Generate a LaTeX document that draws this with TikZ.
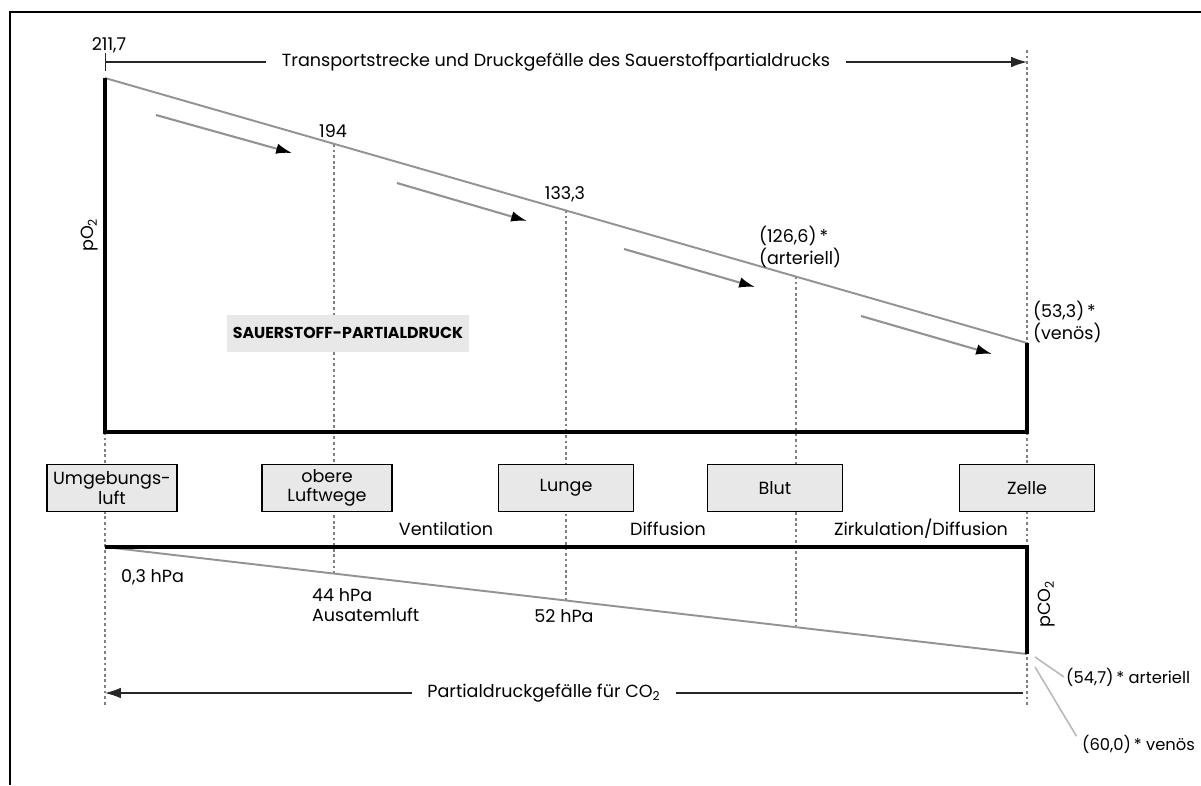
\documentclass[tikz,border=0pt]{standalone}
\usepackage{fontspec}
\setmainfont{Poppins}
\usetikzlibrary{arrows.meta}

\begin{document}
\begin{tikzpicture}[x=0.02cm,y=-0.02cm,font=\fontsize{10}{11}\selectfont,
                    level/.style={line width=2.2pt},
                    slope/.style={draw=gray!85,line width=1.1pt},
                    grid line/.style={draw=gray,line width=0.8pt,dash pattern=on 1.6pt off 1.6pt},
                    flow/.style={draw=gray!85,line width=1.2pt,-{Latex[black,length=9pt,width=6pt]}},
                    span/.style={draw=black!85,line width=0.7pt},
                    stage/.style={draw,fill=gray!18,line width=0.8pt,minimum width=2.6cm,
                                  minimum height=0.94cm,align=center,inner sep=1pt},
                    value/.style={inner sep=1pt,align=left},
                    leader/.style={draw=gray!55,line width=0.9pt}]
  \useasboundingbox (0,0) rectangle (1201,785);
  \draw[line width=1.7pt] (1201,12) -- (10,12) -- (10,785);

  % O2 and CO2 corners
  \coordinate (o2top) at (105,78);
  \coordinate (o2bl)  at (105,432);
  \coordinate (o2br)  at (1027,432);
  \coordinate (o2end) at (1027,343);
  \coordinate (co2l)  at (105,547);
  \coordinate (co2r)  at (1027,547);
  \coordinate (co2end) at (1027,654);

  % dotted stage lines
  \foreach \x/\ya/\yb in {105/432/705, 334/144/573, 566/210/600, 796/276/626, 1027/50/705}
    \draw[grid line] (\x,\ya) coordinate (g\x a) -- (\x,\yb) coordinate (g\x b);

  \draw[slope] (o2top) -- (o2end);
  \draw[slope] (co2l) -- (co2end);
  \draw[level] (o2top) -- (o2bl) -- (o2br) -- (o2end);
  \draw[level] (co2l) -- (co2r) -- (co2end);

  \foreach \n/\xa/\ya/\xb/\yb in {1/156/115/292/153, 2/397/183/527/221,
                                   3/624/249/755/287, 4/861/316/992/354} {
    \coordinate (f\n a) at (\xa,\ya);
    \coordinate (f\n b) at (\xb,\yb);
    \draw[flow] (f\n a) -- (f\n b);
  }

  \coordinate (tstart) at (105,62);
  \coordinate (tend) at (1027,62);
  \draw[span,{Bar[width=10pt]}-{Latex[length=9pt,width=6pt]}] (tstart) -- (tend);
  \node[fill=white,inner xsep=9pt] (transport) at (556,62)
    {Transportstrecke und Druckgefälle des Sauerstoffpartialdrucks};

  \coordinate (cstart) at (1023,693);
  \coordinate (cend) at (105,693);
  \draw[span,-{Latex[length=9pt,width=6pt]}] (cstart) -- (cend);
  \node[fill=white,inner xsep=9pt] (gradient) at (544,693) {Partialdruckgefälle für CO\textsubscript{2}};

  \node[value] (v211) at (109,45) {211,7};
  \node[value] (v194) at (333,131) {194};
  \node[value] (v133) at (565,194) {133,3};
  \node[value,anchor=west] (v126) at (757,247) {(126,6)\,*\\(arteriell)};
  \node[value,anchor=west] (v53) at (1031,322) {(53,3)\,*\\(venös)};
  \node[rotate=90] (po2) at (90,235) {pO\textsubscript{2}};
  \node[fill=gray!18,minimum width=4.8cm,minimum height=0.74cm,
        font=\fontsize{9}{10}\selectfont\bfseries] (title) at (348,333) {SAUERSTOFF-PARTIALDRUCK};

  \node[stage] (umgebung) at (112,488) {Umgebungs-\\luft};
  \node[stage] (obere) at (327,488) {obere\\Luftwege};
  \node[stage,minimum width=2.7cm] (lunge) at (566,488) {Lunge};
  \node[stage,minimum width=2.7cm] (blut) at (775,488) {Blut};
  \node[stage,minimum width=2.7cm] (zelle) at (1027,488) {Zelle};

  \node (vent) at (446,529) {Ventilation};
  \node (diff) at (668,529) {Diffusion};
  \node (zirk) at (921,529) {Zirkulation/Diffusion};

  \node[value,anchor=west] (v03) at (119,577) {0,3 hPa};
  \node[value,anchor=west] (v44) at (310,605) {44 hPa\\Ausatemluft};
  \node[value] (v52) at (564,616) {52 hPa};
  \node[rotate=90] (pco2) at (1047,604) {pCO\textsubscript{2}};

  \node[value,anchor=west,font=\fontsize{9.3}{11}\selectfont] (v54) at (1064,677) {(54,7)\,* arteriell};
  \node[value,anchor=west,font=\fontsize{9.3}{11}\selectfont] (v60) at (1080,744) {(60,0)\,* venös};
  \coordinate (artfoot) at (1035,657);
  \coordinate (venfoot) at (1035,667);
  \draw[leader] (artfoot) -- (v54.west);
  \draw[leader] (venfoot) -- ([xshift=-2pt,yshift=-2pt]v60.north west);
\end{tikzpicture}
\end{document}
